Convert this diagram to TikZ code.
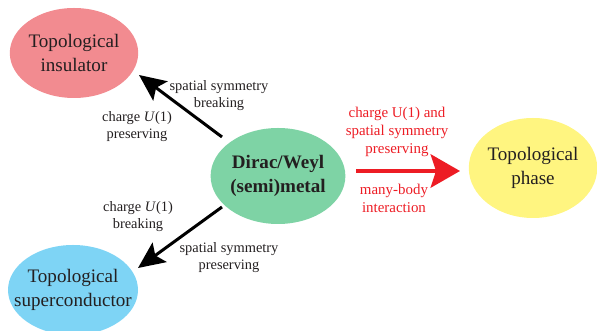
\documentclass[tikz,border=0pt]{standalone}
\usepackage{fontspec}
\setmainfont{Liberation Serif}
\usepackage{tikz}
\usetikzlibrary{arrows.meta,shapes.geometric,positioning}

\definecolor{insulcol}{RGB}{242,139,144}
\definecolor{diraccol}{RGB}{126,211,165}
\definecolor{phasecol}{RGB}{255,245,128}
\definecolor{supercol}{RGB}{126,212,245}
\definecolor{arrred}{RGB}{237,28,36}
\definecolor{txtgray}{RGB}{35,31,32}

\tikzset{
  blob/.style={ellipse, inner sep=0pt, align=center, text=txtgray,
    font=\fontsize{14.3}{18}\selectfont},
  lbl/.style={align=center, text=txtgray, font=\fontsize{10.8}{12.8}\selectfont},
  redlbl/.style={align=center, text=arrred, font=\fontsize{11.2}{13.5}\selectfont},
  blackarr/.style={line width=2.25pt, -{Stealth[length=20pt,width=18pt,inset=4pt]}},
  redarr/.style={line width=3pt, arrred, -{Stealth[length=22pt,width=25pt,inset=4pt]}},
}

\begin{document}
\begin{tikzpicture}[x=0.75pt, y=0.75pt]
  \useasboundingbox (0,0) rectangle (597,331);

  % Phases
  \node[blob, fill=insulcol, minimum width=96pt, minimum height=67.5pt] (insul) at (74,278) {Topological\\insulator};
  \node[blob, fill=diraccol, minimum width=97.5pt, minimum height=72pt, font=\fontsize{14.3}{18}\selectfont\bfseries] (dirac) at (278,155) {Dirac/Weyl\\(semi)metal};
  \node[blob, fill=phasecol, minimum width=94.5pt, minimum height=75pt] (phase) at (533,163) {Topological\\phase};
  \node[blob, fill=supercol, inner xsep=-11pt, minimum width=97.5pt, minimum height=67.5pt] (super) at (73,41) {Topological\\superconductor};

  % Arrow ends
  \coordinate (dirNW) at (222,194);
  \coordinate (insSE) at (139,256);
  \coordinate (dirSW) at (222,124);
  \coordinate (supNE) at (138,63);
  \coordinate (dirE) at (356,160);
  \coordinate (phW) at (460,160);

  % Arrows
  \draw[blackarr] (dirNW) -- (insSE);
  \draw[blackarr] (dirSW) -- (supNE);
  \draw[redarr] (dirE) -- (phW);

  % Labels
  \node[lbl] (insA) at (219,235) {spatial symmetry\\breaking};
  \node[lbl] (insB) at (137,204) {charge \textit{U}(1)\\preserving};
  \node[lbl] (supA) at (138,114) {charge \textit{U}(1)\\breaking};
  \node[lbl] (supB) at (229,73) {spatial symmetry\\preserving};
  \node[redlbl] (redA) at (397,199) {charge U(1) and\\spatial symmetry\\preserving};
  \node[redlbl] (redB) at (394,133) {many-body\\interaction};
\end{tikzpicture}
\end{document}
